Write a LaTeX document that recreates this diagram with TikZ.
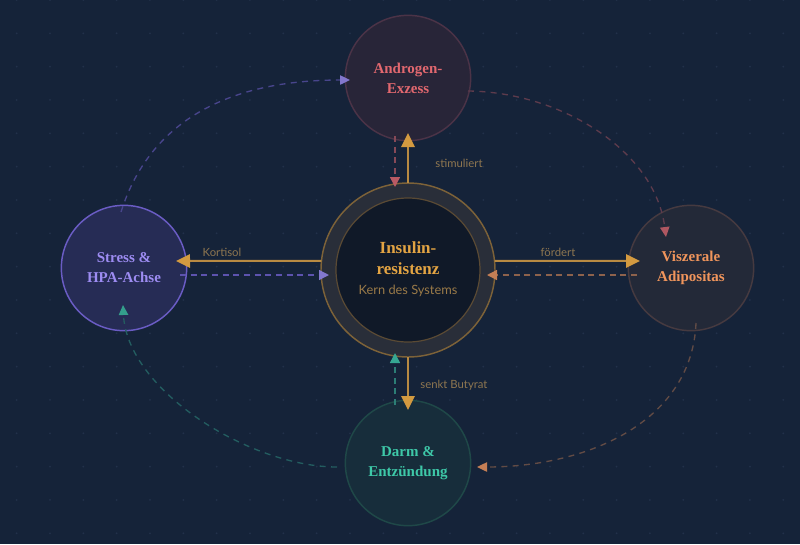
\documentclass[tikz,border=0pt]{standalone}
\usepackage{fontspec}
\setmainfont{Liberation Serif}
\newfontfamily\labelfont{Lato}
\usetikzlibrary{arrows.meta,calc}

\definecolor{bgc}{HTML}{152339}
\definecolor{dotc}{HTML}{22314A}
\definecolor{goldc}{HTML}{E3A443}
\definecolor{arrc}{HTML}{B88A42}
\definecolor{arrtip}{HTML}{D39A40}
\definecolor{lblc}{HTML}{8E7650}
\definecolor{subc}{HTML}{9A7A48}
\definecolor{ringfill}{HTML}{292E39}
\definecolor{ringline}{HTML}{7D6238}
\definecolor{corefill}{HTML}{101928}
\definecolor{coreline}{HTML}{5A4A34}
\definecolor{androfill}{HTML}{282538}
\definecolor{androline}{HTML}{4B3347}
\definecolor{androtext}{HTML}{E2686F}
\definecolor{stressfill}{HTML}{262C55}
\definecolor{stressline}{HTML}{6A5CC4}
\definecolor{stresstext}{HTML}{9D8CF2}
\definecolor{viszfill}{HTML}{232938}
\definecolor{viszline}{HTML}{463A40}
\definecolor{vizstext}{HTML}{F0955C}
\definecolor{darmfill}{HTML}{172D3B}
\definecolor{darmline}{HTML}{1F4848}
\definecolor{darmtext}{HTML}{3EC8A8}

\tikzset{every picture/.style={line width=0.75pt}}
\tikzset{
  bubble/.style={circle, minimum size=94pt, inner sep=0pt, outer sep=0pt, line width=1.1pt, align=center,
    font=\fontsize{11.25}{15}\selectfont\bfseries},
  solidarr/.style={draw=arrc, line width=1.5pt, -{Triangle[length=10.5pt, width=10pt, color=arrtip]}},
  dasharr/.style={line width=1.1pt, dash pattern={on 4.5pt off 3.5pt}},
  looparr/.style={line width=1pt, dash pattern={on 4.5pt off 4pt}},
  lbl/.style={inner sep=0.75pt, text=lblc, font=\labelfont\fontsize{8.5}{10}\selectfont}
}

\begin{document}
\begin{tikzpicture}[x=0.75pt,y=0.75pt,yscale=-1,xscale=1]
\useasboundingbox (0,0) rectangle (800,544);
\fill[bgc] (0,0) rectangle (800,544);

%Dot grid
\begin{scope}
\clip (0,0) rectangle (800,544);
\foreach \i in {0,...,23}
  \foreach \j in {0,...,16}
    \fill[dotc] (16.67+33.33*\i,33.33*\j) circle (0.75pt);
\end{scope}

%Center ring
\node [circle, minimum size=130.5pt, inner sep=0pt, outer sep=0pt, fill=ringfill, draw=ringline, line width=1.1pt] (ring) at (408,270) {};
\node [circle, minimum size=108pt, inner sep=0pt, outer sep=0pt, fill=corefill, draw=coreline, line width=0.9pt] (core) at (408,270) {};

%Outer nodes
\node [bubble, fill=androfill, draw=androline, text=androtext] (andro) at (408,78) {Androgen-\\Exzess};
\node [bubble, fill=stressfill, draw=stressline, text=stresstext] (stress) at (124,268) {Stress \&\\HPA-Achse};
\node [bubble, fill=viszfill, draw=viszline, text=vizstext] (visz) at (691,268) {Viszerale\\Adipositas};
\node [bubble, fill=darmfill, draw=darmline, text=darmtext] (darm) at (408,463) {Darm \&\\Entzündung};

% Text Node
\node [align=center, text=goldc, font=\fontsize{12.75}{15.75}\selectfont\bfseries] (ttl) at (408,258) {Insulin-\\resistenz};
% Text Node
\node [text=subc, font=\labelfont\fontsize{9.6}{11}\selectfont] (sub) at (408,291) {Kern des Systems};

%Solid arrows from the core
\draw [solidarr] (ring.north) -- ($(andro.center)+(0,55)$);
\draw [solidarr] (ring.174) -- ($(stress.center)+(52,-7)$);
\draw [solidarr] (ring.6) -- ($(visz.center)+(-51,-7)$);
\draw [solidarr] (ring.south) -- ($(darm.center)+(0,-53)$);

%Dashed arrows back to the core
\draw [dasharr, draw=androtext!55!bgc, -{Triangle[length=7.5pt, width=7.5pt, color=androtext!80!bgc]}] ($(andro.center)+(-13,58)$) -- ($(ring.center)+(-13,-83)$);
\draw [dasharr, draw=stressline!85!bgc, -{Triangle[length=7.5pt, width=7.5pt, color=stresstext!80!bgc]}] ($(stress.center)+(56,7)$) -- ($(ring.center)+(-79,5)$);
\draw [dasharr, draw=vizstext!55!bgc, -{Triangle[length=7.5pt, width=7.5pt, color=vizstext!80!bgc]}] ($(visz.center)+(-54,7)$) -- ($(ring.center)+(79,5)$);
\draw [dasharr, draw=darmtext!55!bgc, -{Triangle[length=7.5pt, width=7.5pt, color=darmtext!80!bgc]}] ($(darm.center)+(-13,-58)$) -- ($(ring.center)+(-13,83)$);

%Outer loop
\draw [looparr, draw=stressline!60!bgc, -{Triangle[length=7.5pt, width=7pt, color=stresstext!80!bgc]}] ($(stress.center)+(-3,-56)$) .. controls +(29,-92) and +(-120,0) .. ($(andro.center)+(-58,2)$);
\draw [looparr, draw=androtext!35!bgc, -{Triangle[length=7.5pt, width=7pt, color=androtext!75!bgc]}] ($(andro.center)+(60,13)$) .. controls +(92,1) and +(-11,-87) .. ($(visz.center)+(-25,-31)$);
\draw [looparr, draw=vizstext!35!bgc, -{Triangle[length=7.5pt, width=7pt, color=vizstext!80!bgc]}] ($(visz.center)+(5,55)$) .. controls +(-4,97) and +(113,0) .. ($(darm.center)+(69,4)$);
\draw [looparr, draw=darmtext!35!bgc, -{Triangle[length=7.5pt, width=7pt, color=darmtext!75!bgc]}] ($(darm.center)+(-71,4)$) .. controls +(-87,0) and +(4,85) .. ($(stress.center)+(-1,37)$);

% Text Node
\node [lbl] (lstim) at (459,163) {stimuliert};
% Text Node
\node [lbl] (lkort) at (222,252) {Kortisol};
% Text Node
\node [lbl] (lford) at (558,252) {fördert};
% Text Node
\node [lbl] (lbut) at (454,385) {senkt Butyrat};

\end{tikzpicture}
\end{document}
